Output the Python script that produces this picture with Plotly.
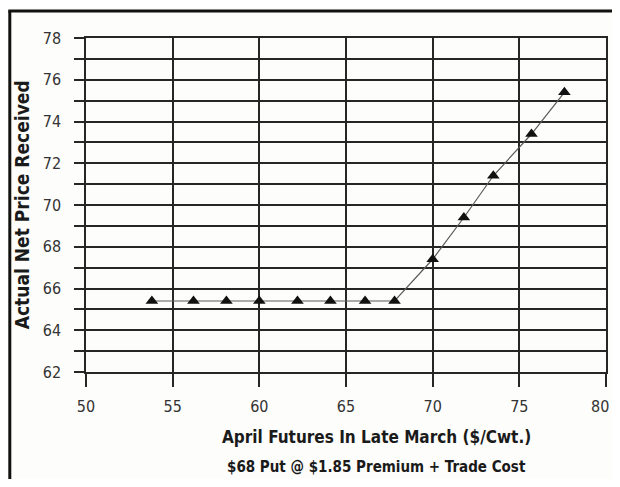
import plotly.graph_objects as go

futures = [53.8, 56.2, 58.1, 60.0, 62.2, 64.1, 66.1, 67.8, 70.0, 71.8, 73.5, 75.7, 77.6]
net_price = [65.4, 65.4, 65.4, 65.4, 65.4, 65.4, 65.4, 65.4, 67.4, 69.4, 71.4, 73.4, 75.4]

x_title = "April Futures In Late March ($/Cwt.)"
sub_title = "$68 Put @ $1.85 Premium + Trade Cost"
y_title = "Actual Net Price Received"
x_last_label = "80"

# page body offsets the figure by 8px on each side
OFF = 8
W, H = 620 - 2 * OFF, 487 - 2 * OFF
PL, PR, PT, PB = 86, 608, 38, 372  # plot area in window pixels
L, R, T, B = PL - OFF, (W + OFF) - PR, PT - OFF, (H + OFF) - PB
pw, ph = PR - PL, PB - PT

def px(x):
    return (x - PL) / pw

def py(y):
    return (PB - y) / ph

FONT = "DejaVu Sans Condensed, Liberation Sans Narrow, sans-serif"

fig = go.Figure()
fig.add_trace(go.Scatter(
    x=futures, y=net_price, mode="lines+markers",
    line=dict(color="#5a5a5a", width=1.2),
    marker=dict(symbol="triangle-up", size=11, color="#111111"),
    showlegend=False,
))

grid_c = "#262626"
fig.update_xaxes(
    range=[50, 80], dtick=5, tick0=50,
    showgrid=True, gridcolor=grid_c, gridwidth=1.5,
    ticks="outside", ticklen=13, tickwidth=1.5, tickcolor=grid_c,
    showline=True, mirror=True, linecolor=grid_c, linewidth=1.5,
    zeroline=False,
    tickfont=dict(family=FONT, size=16, color="#333333"),
    ticklabelstandoff=6,
)
fig.update_yaxes(
    range=[62, 78], dtick=2, tick0=62,
    showgrid=True, gridcolor=grid_c, gridwidth=1.5,
    ticks="outside", ticklen=10, tickwidth=1.5, tickcolor=grid_c,
    minor=dict(dtick=1, showgrid=True, gridcolor=grid_c, gridwidth=1.5,
               ticks="outside", ticklen=10, tickwidth=1.5, tickcolor=grid_c),
    showline=True, mirror=True, linecolor=grid_c, linewidth=1.5,
    zeroline=False,
    tickfont=dict(family=FONT, size=16, color="#333333"),
    ticklabelstandoff=10,
)

annotations = [
    dict(text=f"<b>{x_title}</b>", x=px(378), y=py(437), xref="paper", yref="paper",
         showarrow=False, xanchor="center", yanchor="middle",
         font=dict(family=FONT, size=17, color="#1a1a1a")),
    dict(text=f"<b>{sub_title}</b>", x=px(378), y=py(467), xref="paper", yref="paper",
         showarrow=False, xanchor="center", yanchor="middle",
         font=dict(family=FONT, size=15, color="#1a1a1a")),
    dict(text=f"<b>{y_title}</b>", x=px(22), y=py(205), xref="paper", yref="paper",
         showarrow=False, xanchor="center", yanchor="middle", textangle=-90,
         font=dict(family=FONT, size=19, color="#1a1a1a")),
    # last x tick label (hidden by plotly because it reaches the page edge)
    dict(text=x_last_label, x=px(612), y=py(406), xref="paper", yref="paper",
         showarrow=False, xanchor="right", yanchor="middle",
         borderpad=0, xshift=0,
         font=dict(family=FONT, size=16, color="#333333")),
]

shapes = [
    dict(type="line", xref="paper", yref="paper", x0=px(9.5), x1=px(9.5), y0=py(11), y1=py(490),
         line=dict(color="#111111", width=3)),
    dict(type="line", xref="paper", yref="paper", x0=px(8), x1=px(622), y0=py(11), y1=py(11),
         line=dict(color="#111111", width=3)),
]

fig.update_layout(
    width=W, height=H,
    margin=dict(l=L, r=R, t=T, b=B),
    paper_bgcolor="#fdfdfb", plot_bgcolor="#fdfdfb",
    annotations=annotations, shapes=shapes,
)

fig.write_html("out.html")
